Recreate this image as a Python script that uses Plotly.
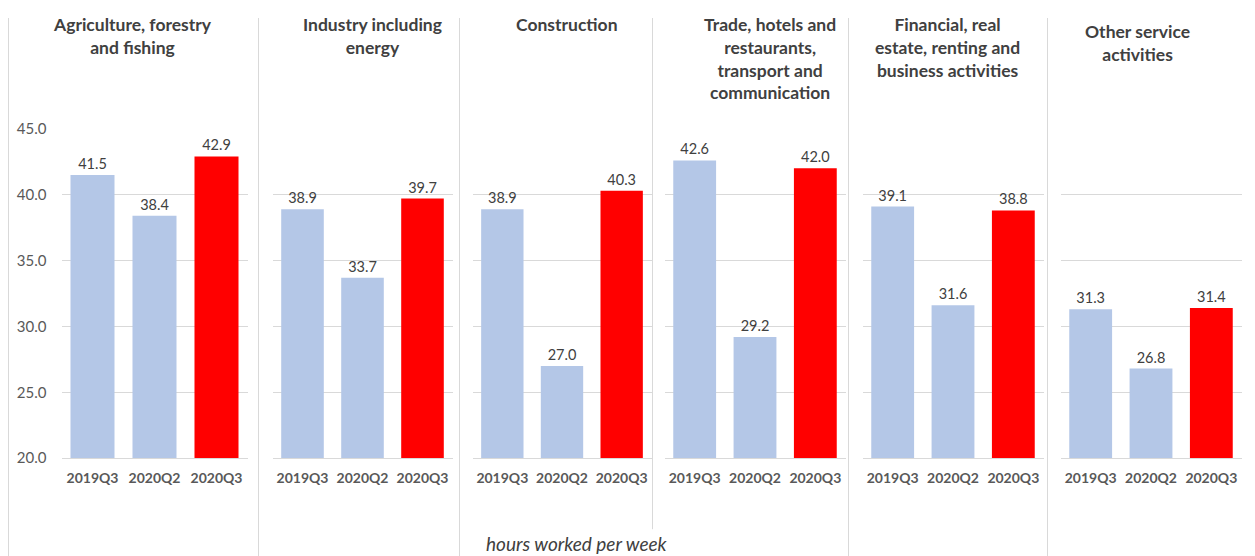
import plotly.graph_objects as go

sectors = [
    "Agriculture, forestry<br>and fishing",
    "Industry including<br>energy",
    "Construction",
    "Trade, hotels and<br>restaurants,<br>transport and<br>communication",
    "Financial, real<br>estate, renting and<br>business activities",
    "Other service<br>activities",
]
quarters = ["2019Q3", "2020Q2", "2020Q3"]
hours_2019q3 = [41.5, 38.9, 38.9, 42.6, 39.1, 31.3]
hours_2020q2 = [38.4, 33.7, 27.0, 29.2, 31.6, 26.8]
hours_2020q3 = [42.9, 39.7, 40.3, 42.0, 38.8, 31.4]
y_ticks = [20, 25, 30, 35, 40, 45]

W, H = 1255, 556
FONT = "Lato, sans-serif"
BLUE = "#B4C7E7"
RED = "#FF0000"
TXT = "#404040"
GRID = "#D9D9D9"

def px(x):
    return x / W

def py(y):
    return 1 - y / H

panels = [(53.5, 239.5), (264.5, 444.5), (464.5, 643.5), (656.5, 837.5),
          (854.5, 1035.5), (1052.5, 1233.5)]
title_x = [124.5, 364.5, 558.5, 761.5, 939.5, 1129.5]
title_y = [-6, -6, -6, -6, -6, 1]
separators = [0.5, 250.5, 451.5, 644.5, 840.5, 1039.5]
grid_top, grid_bot = 114.5, 454.9

fig = go.Figure()
for i in range(6):
    vals = [hours_2019q3[i], hours_2020q2[i], hours_2020q3[i]]
    ax = "" if i == 0 else str(i + 1)
    fig.add_trace(go.Bar(
        x=quarters, y=vals,
        marker=dict(color=[BLUE, BLUE, RED], line=dict(width=0)),
        text=[f"{v:.1f}" for v in vals],
        textposition="outside",
        textfont=dict(family=FONT, size=14.5, color=TXT),
        cliponaxis=False,
        xaxis="x" + ax, yaxis="y" + ax,
        showlegend=False,
    ))
    x0, x1 = panels[i]
    fig.layout["xaxis" + ax] = dict(
        domain=[px(x0), px(x1)], anchor="y" + ax,
        showgrid=False, showline=True, linecolor=GRID, linewidth=1,
        ticks="outside", ticklen=7, tickcolor="rgba(0,0,0,0)",
        tickfont=dict(family=FONT, size=14, color="#595959", weight="bold"),
        tickangle=0,
        fixedrange=True,
    )
    fig.layout["yaxis" + ax] = dict(
        domain=[py(grid_bot), py(grid_top)], anchor="x" + ax,
        range=[20, 45], tickvals=y_ticks,
        tickformat=".1f",
        showticklabels=(i == 0),
        showgrid=True, gridcolor=GRID, gridwidth=1,
        zeroline=False, showline=False,
        ticks="outside", ticklen=11, tickcolor="rgba(0,0,0,0)",
        tickfont=dict(family=FONT, size=15, color="#595959"),
        fixedrange=True,
    )
    fig.add_annotation(
        x=px(title_x[i]), y=py(title_y[i]), xref="paper", yref="paper",
        text=sectors[i], showarrow=False, xanchor="center", yanchor="top",
        align="center",
        font=dict(family=FONT, size=17.5, color=TXT, weight="bold"),
    )

shapes = []
for s in separators:
    ybot = 528.3 if s == 644.5 else 560
    shapes.append(dict(type="line", xref="paper", yref="paper",
                       x0=px(s), x1=px(s), y0=py(0), y1=py(ybot),
                       line=dict(color=GRID, width=1)))
shapes.append(dict(type="line", xref="paper", yref="paper",
                   x0=px(1245.5), x1=px(1245.5), y0=py(0), y1=py(560),
                   line=dict(color="#EEEEEE", width=1)))
fig.update_layout(shapes=shapes)

fig.add_annotation(
    x=px(568.5), y=py(543), xref="paper", yref="paper",
    text="<i>hours worked per week</i>", showarrow=False,
    xanchor="center", yanchor="middle",
    font=dict(family=FONT, size=19, color=TXT),
)

fig.update_layout(
    width=W, height=H,
    margin=dict(l=0, r=0, t=0, b=0),
    paper_bgcolor="white", plot_bgcolor="white",
    bargap=0.29,
    font=dict(family=FONT, color=TXT),
)

fig.write_html("out.html", config={"displayModeBar": False})
